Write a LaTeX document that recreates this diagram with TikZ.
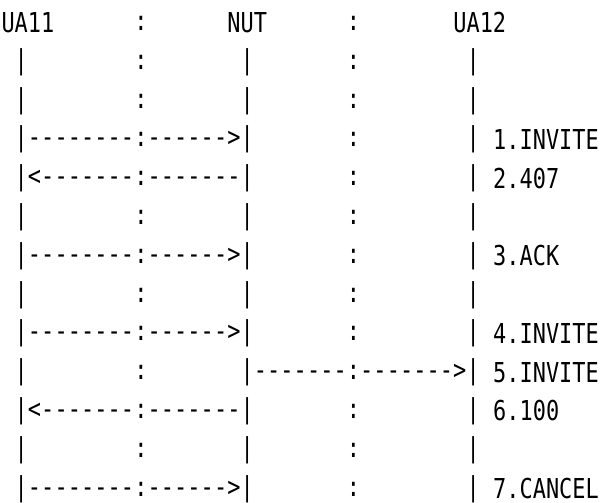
\documentclass[tikz,border=0pt]{standalone}
\usepackage{fontspec}
\newfontfamily\asciifont[FakeStretch=0.8,Ligatures=TeXOff]{DejaVu Sans Mono}
\usepackage{tikz}
\usetikzlibrary{positioning}
\usetikzlibrary{calc}

\begin{document}
\begin{tikzpicture}[
                x=13.29pt, y=-38.8pt,
                every node/.style={font=\asciifont\fontsize{27.4}{30}\selectfont, inner sep=0pt},
                glyph/.style={anchor=base, yshift=2.5pt},
                txt/.style={anchor=base west}
            ]
            \useasboundingbox (0,0) rectangle (45.6,12.94);
            % Header
            \node[txt] (ua11) at (0.1,0.85) {UA11};
            \node[glyph] (hsepA) at (10.6,0.85) {:};
            \node[txt] (nut) at (17.1,0.85) {NUT};
            \node[glyph] (hsepB) at (26.6,0.85) {:};
            \node[txt] (ua12) at (34.1,0.85) {UA12};
            % Lifelines
            \foreach \r in {1,...,12} {
                \node[glyph] (barA-\r) at (1.6,\r+0.85) {|};
                \node[glyph] (sepA-\r) at (10.6,\r+0.85) {:};
                \node[glyph] (barB-\r) at (18.6,\r+0.85) {|};
                \node[glyph] (sepB-\r) at (26.6,\r+0.85) {:};
                \node[glyph] (barC-\r) at (35.6,\r+0.85) {|};
            }
            % UA11 -> NUT
            \foreach \r in {3,6,8,12} {
                \foreach \c in {2,...,9} \node[glyph] (dl-\r-\c) at (\c+0.6,\r+0.85) {-};
                \foreach \c in {11,...,16} \node[glyph] (dr-\r-\c) at (\c+0.6,\r+0.85) {-};
                \node[glyph] (tip-\r) at (17.6,\r+0.85) {>};
            }
            % NUT -> UA11
            \foreach \r in {4,10} {
                \node[glyph] (tip-\r) at (2.6,\r+0.85) {<};
                \foreach \c in {3,...,9} \node[glyph] (dl-\r-\c) at (\c+0.6,\r+0.85) {-};
                \foreach \c in {11,...,17} \node[glyph] (dr-\r-\c) at (\c+0.6,\r+0.85) {-};
            }
            % NUT -> UA12
            \foreach \c in {19,...,25} \node[glyph] (dl-9-\c) at (\c+0.6,9.85) {-};
            \foreach \c in {27,...,33} \node[glyph] (dr-9-\c) at (\c+0.6,9.85) {-};
            \node[glyph] (tip-9) at (34.6,9.85) {>};
            % Labels
            \node[txt] (m1) at (37.1,3.85) {1.INVITE};
            \node[txt] (m2) at (37.1,4.85) {2.407};
            \node[txt] (m3) at (37.1,6.85) {3.ACK};
            \node[txt] (m4) at (37.1,8.85) {4.INVITE};
            \node[txt] (m5) at (37.1,9.85) {5.INVITE};
            \node[txt] (m6) at (37.1,10.85) {6.100};
            \node[txt] (m7) at (37.1,12.85) {7.CANCEL};
\end{tikzpicture}
\end{document}
